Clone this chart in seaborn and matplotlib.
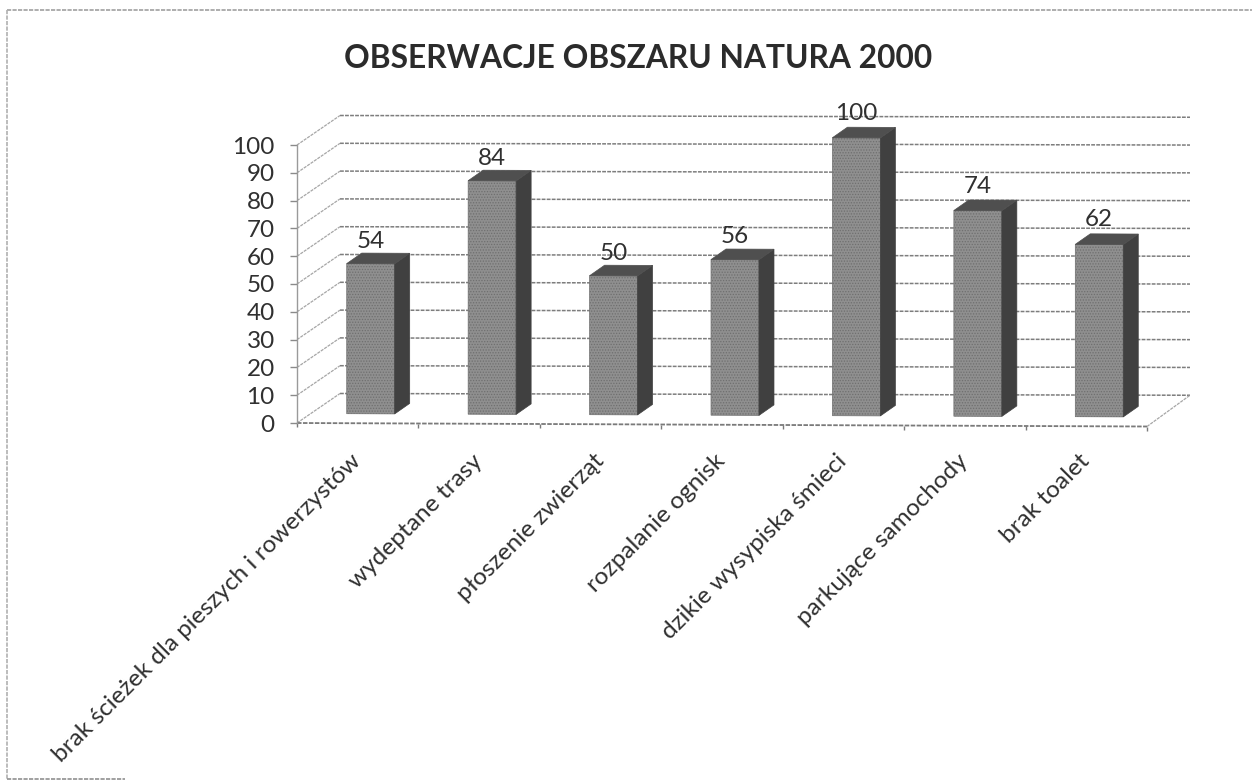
import matplotlib
matplotlib.use("Agg")
import matplotlib.pyplot as plt
import pandas as pd
import seaborn as sns
from matplotlib.lines import Line2D
from matplotlib.patches import Polygon
from matplotlib.transforms import Affine2D, IdentityTransform

categories = ["brak ścieżek dla pieszych i rowerzystów", "wydeptane trasy", "płoszenie zwierząt",
              "rozpalanie ognisk", "dzikie wysypiska śmieci", "parkujące samochody", "brak toalet"]
values = [54, 84, 50, 56, 100, 74, 62]
y_ticks = list(range(0, 101, 10))
title = "OBSERWACJE OBSZARU NATURA 2000"

W, H = 1252, 781
sns.set_theme(style="white")
plt.rcParams["font.family"] = ["Lato", "DejaVu Sans"]
plt.rcParams["hatch.linewidth"] = 0.6
TEXT = "#303030"

fig = plt.figure(figsize=(W / 100, H / 100), dpi=100, facecolor="white")
# axes = front plane of the pseudo-3D box
ax = fig.add_axes([297 / W, 1 - 423 / H, 850 / W, 278 / H])
df = pd.DataFrame({"kategoria": categories, "liczba": values})
sns.barplot(data=df, x="kategoria", y="liczba", color="#8f8f8f", saturation=1,
            width=0.395, ax=ax, zorder=3)
ax.set_xlim(-0.5, 6.5)
ax.set_ylim(0, 100)
ax.set_xlabel("")
ax.set_ylabel("")
ax.patch.set_alpha(0)

s = 3.5 / 850
skew = Affine2D.from_values(1, -s, 0, 1, 0, s * 297)
bar_tf = ax.transData + Affine2D().translate(13, 9.5) + skew
back_tf = ax.transData + Affine2D().translate(43, 29.5) + Affine2D.from_values(1, -s * 0.5, 0, 1, 0, s * 0.5 * 340)
front_tf = ax.transData + skew

DASH = (0, (2.5, 0.8))
ax.hlines(y_ticks, -0.5, 6.5, transform=back_tf, colors="#7d7d7d", linewidth=1.1,
          linestyles=[DASH], zorder=1, clip_on=False)
ident = IdentityTransform()
for v in y_ticks:
    a = front_tf.transform((-0.5, v))
    b = back_tf.transform((-0.5, v))
    ax.plot([a[0], b[0]], [a[1], b[1]], transform=ident, color="#a6a6a6", lw=0.9,
            ls=DASH, zorder=1, clip_on=False)
a = front_tf.transform((6.5, 0))
b = back_tf.transform((6.5, 0))
ax.plot([a[0], b[0]], [a[1], b[1]], transform=ident, color="#a6a6a6", lw=0.9, ls=DASH, zorder=1, clip_on=False)
ax.hlines([0], -0.5, 6.5, transform=front_tf, colors="#7a7a7a", linewidth=1.3, linestyles=[DASH],
          zorder=2, clip_on=False)
ax.vlines([k - 0.5 for k in range(8)], -1.6, 0, transform=front_tf, colors="#7a7a7a",
          linewidth=1, zorder=2, clip_on=False)

dx, dy = 15, 10.5
for p in ax.patches:
    p.set_transform(bar_tf)
    p.set_clip_on(False)
    p.set_hatch("......")
    p.set_edgecolor("#6f6f6f")
    p.set_linewidth(0.5)
    x0, w, h = p.get_x(), p.get_width(), p.get_height()
    bl = bar_tf.transform((x0 + w, 0))
    tl = bar_tf.transform((x0 + w, h))
    tf = bar_tf.transform((x0, h))
    side = [bl, tl, tl + (dx, dy), bl + (dx, dy)]
    top = [tf, tl, tl + (dx, dy), tf + (dx, dy)]
    ax.add_patch(Polygon(side, closed=True, transform=ident, facecolor="#404040",
                         edgecolor="#404040", lw=0.5, zorder=3, clip_on=False))
    ax.add_patch(Polygon(top, closed=True, transform=ident, facecolor="#4f4f4f",
                         edgecolor="#4f4f4f", lw=0.5, zorder=3, clip_on=False))

for i, v in enumerate(values):
    ax.annotate(str(v), (i, v), xytext=(13, 31), textcoords="offset pixels", ha="center",
                va="center", fontsize=17.5, color=TEXT, annotation_clip=False, zorder=5)

ax.set_yticks(y_ticks)
ax.set_yticklabels([str(t) for t in y_ticks], fontsize=17.5, color=TEXT)
for lab in ax.get_yticklabels():
    lab.set_verticalalignment("center_baseline")
ax.tick_params(axis="y", left=True, length=5, width=1, color="#8a8a8a", pad=11)
ax.set_xticks(range(len(categories)))
ax.set_xticklabels(categories, rotation=45, ha="right", va="center", rotation_mode="anchor",
                   fontsize=17.6, color=TEXT)
ax.tick_params(axis="x", bottom=False, pad=19)
for name, sp in ax.spines.items():
    sp.set_visible(name == "left")
ax.spines["left"].set_color("#9a9a9a")
ax.spines["left"].set_linewidth(1)

fig.text(638 / W, 1 - 58 / H, title, ha="center", va="center", fontsize=22.9,
         fontweight="bold", color="#2b2b2b")
# remnants of the scanned chart frame
frame = [((7, 1252), (771, 771), "#a0a0a0"), ((7, 7), (771, 2), "#b0b0b0"), ((7, 125), (2, 2), "#909090")]
for xs, ys, col in frame:
    fig.add_artist(Line2D([x / W for x in xs], [y / H for y in ys], transform=fig.transFigure,
                          color=col, linewidth=1.2, linestyle=DASH))
fig.savefig("out.png", dpi=100)
